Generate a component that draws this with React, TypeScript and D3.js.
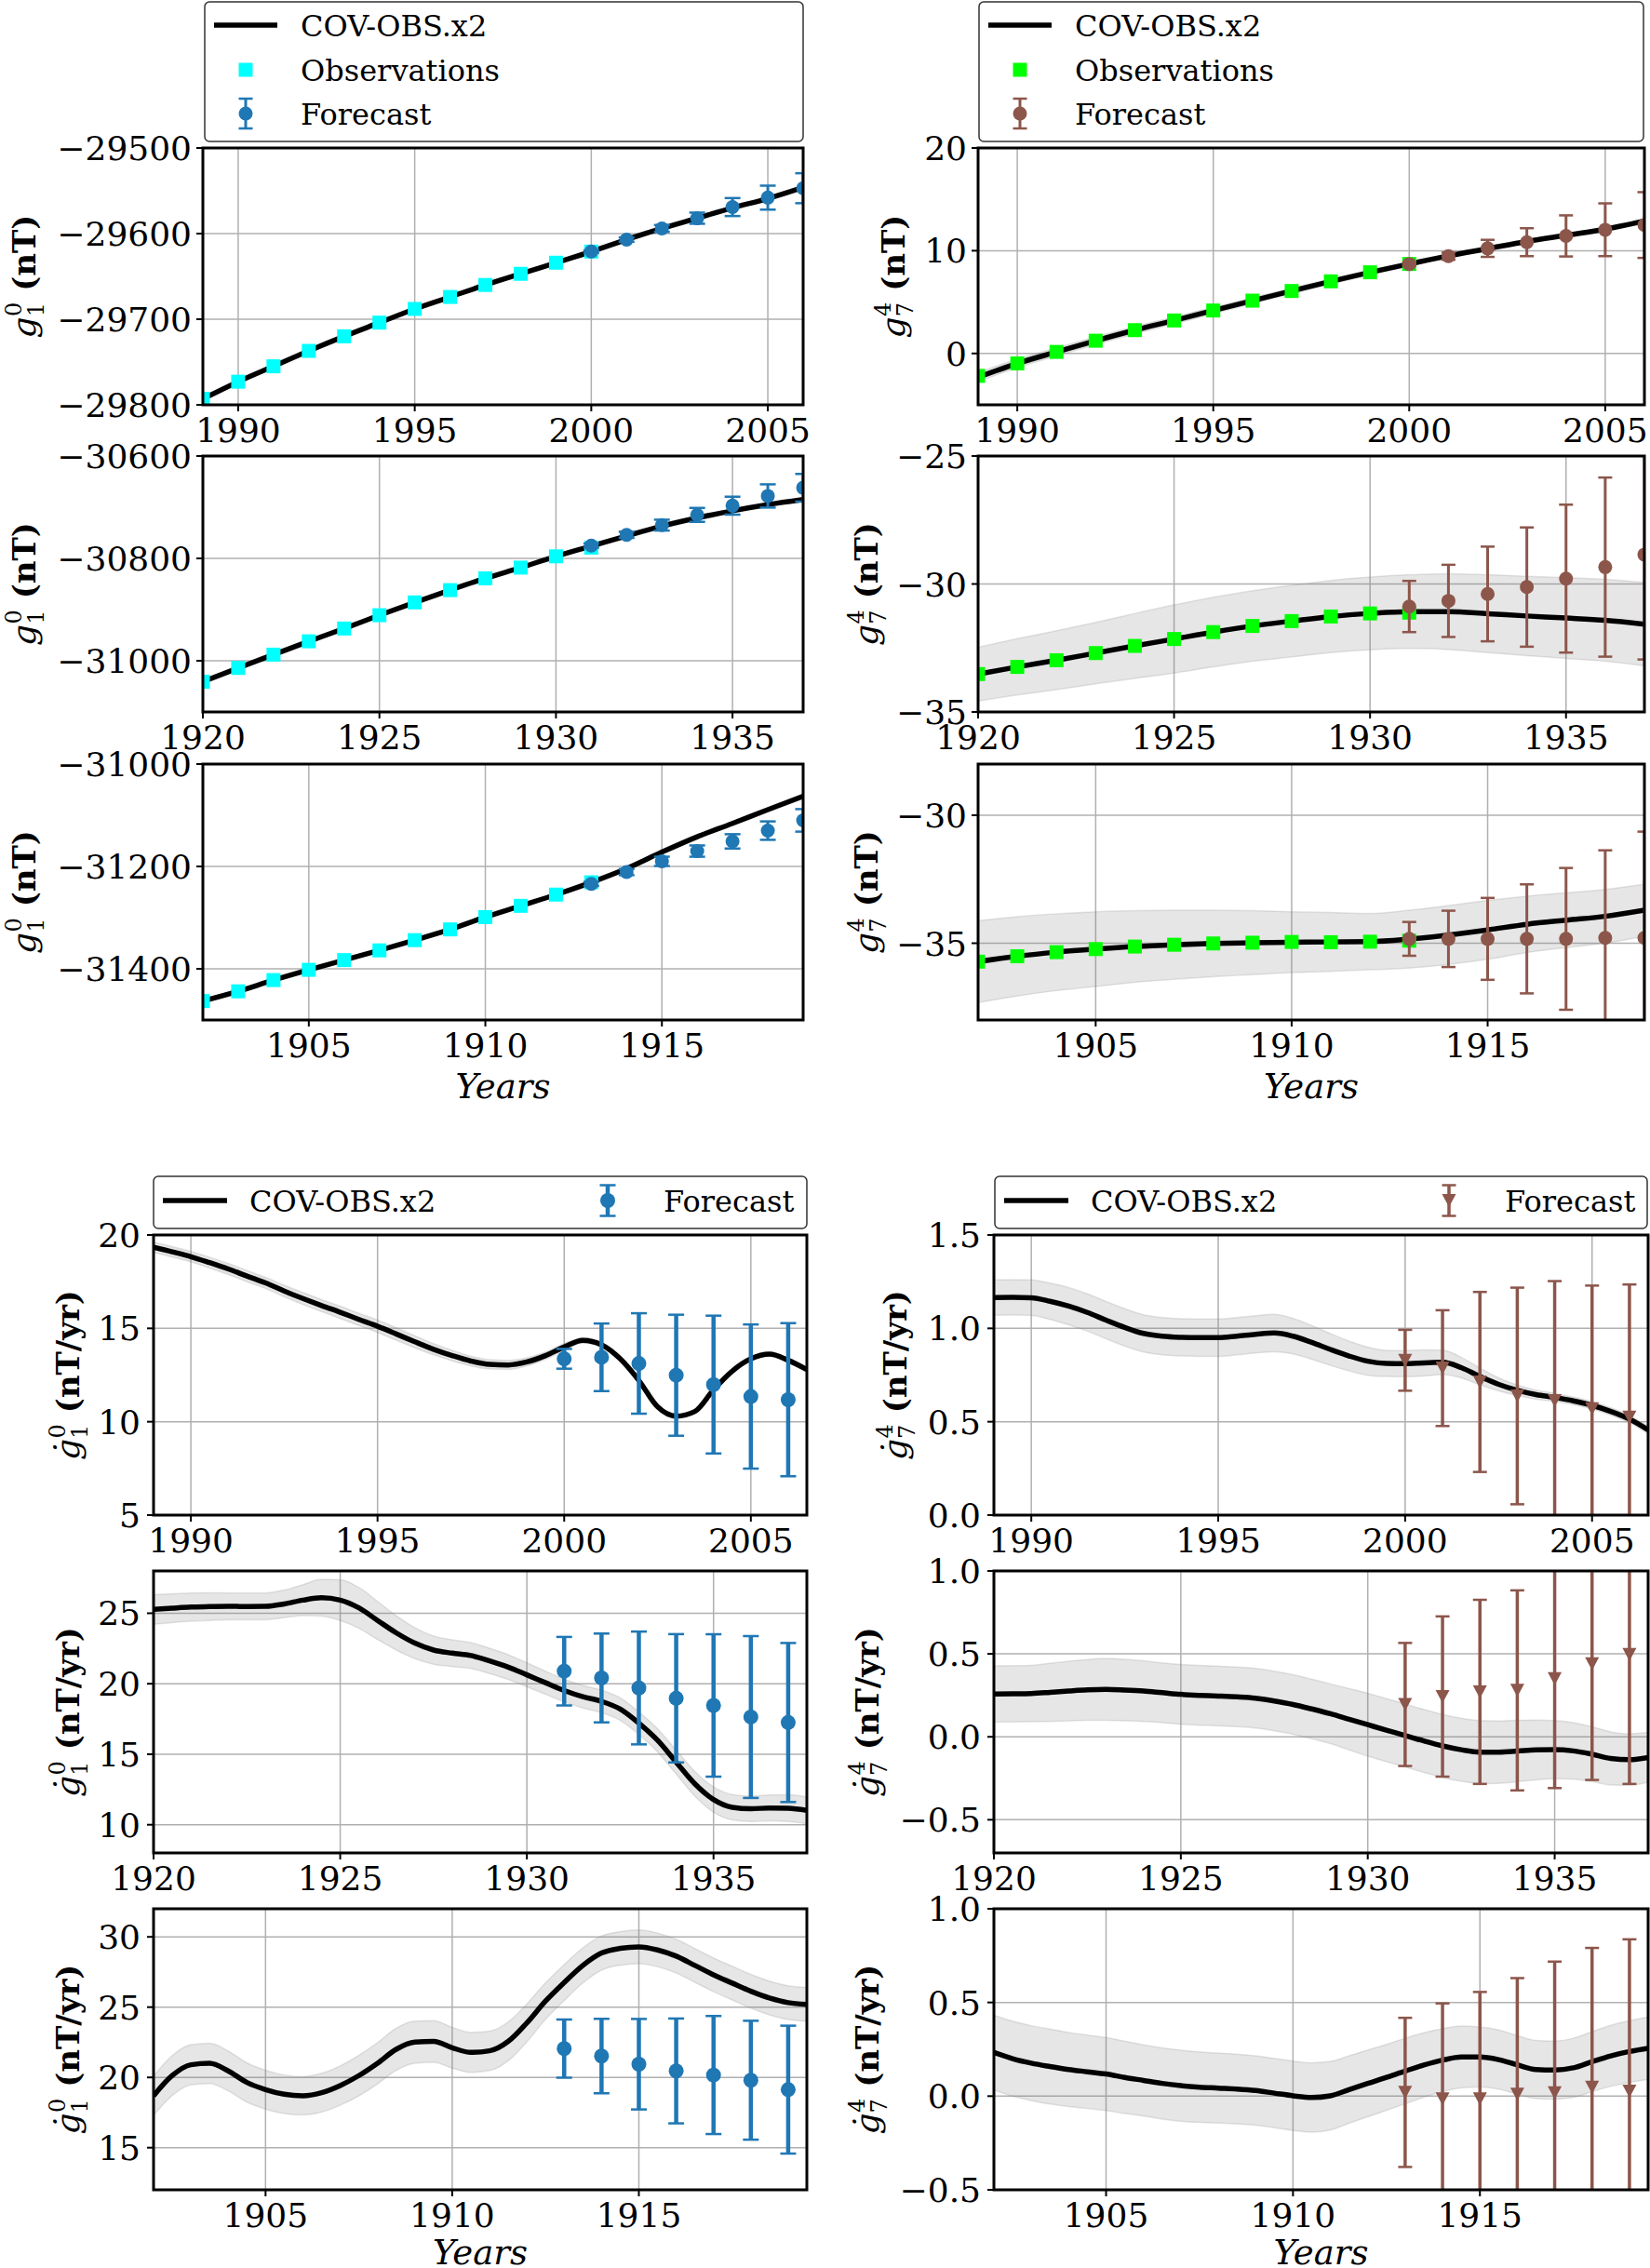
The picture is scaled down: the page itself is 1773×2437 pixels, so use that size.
import React from 'react';
import * as d3 from 'd3';

// ---------- data ----------
const yearsRecent = [1989, 1990, 1991, 1992, 1993, 1994, 1995, 1996, 1997, 1998, 1999, 2000, 2001, 2002, 2003, 2004, 2005, 2006];
const obsYearsRecent = [1989, 1990, 1991, 1992, 1993, 1994, 1995, 1996, 1997, 1998, 1999, 2000];
const fcYearsRecent = [2000, 2001, 2002, 2003, 2004, 2005, 2006];
const years1920 = [1920, 1921, 1922, 1923, 1924, 1925, 1926, 1927, 1928, 1929, 1930, 1931, 1932, 1933, 1934, 1935, 1936, 1937];
const obsYears1920 = [1920, 1921, 1922, 1923, 1924, 1925, 1926, 1927, 1928, 1929, 1930, 1931];
const fcYears1920 = [1931, 1932, 1933, 1934, 1935, 1936, 1937];
const years1902 = [1902, 1903, 1904, 1905, 1906, 1907, 1908, 1909, 1910, 1911, 1912, 1913, 1914, 1915, 1916, 1917, 1918, 1919];
const obsYears1902 = [1902, 1903, 1904, 1905, 1906, 1907, 1908, 1909, 1910, 1911, 1912, 1913];
const fcYears1902 = [1913, 1914, 1915, 1916, 1917, 1918, 1919];
// half-year sampling of the secular-variation curves
const halfYearsRecent = d3.range(1989, 2007, 0.5);
const halfYears1920 = d3.range(1920, 1938, 0.5);
const halfYears1902 = d3.range(1902, 1920, 0.5);

// g_1^0 (nT)
const g10LineRecent = [-29793, -29773, -29755, -29737, -29720, -29704, -29688, -29674, -29660, -29647, -29634, -29621, -29607, -29594, -29582, -29570, -29559, -29546];
const g10ObsRecent = [-29793, -29773, -29755, -29737, -29720, -29704, -29688, -29674, -29660, -29647, -29634, -29621];
const g10FcRecent = [-29621, -29607, -29594, -29582, -29569, -29558, -29547];
const g10ErrRecent = [1.5, 2.5, 4, 6.5, 10.5, 14, 17.5];

const g10Line1920 = [-31041, -31014, -30988, -30962, -30937, -30911, -30886, -30862, -30839, -30818, -30796, -30776, -30756, -30737, -30721, -30707, -30695, -30685];
const g10Obs1920 = [-31041, -31014, -30988, -30962, -30937, -30911, -30886, -30862, -30839, -30818, -30796, -30779];
const g10Fc1920 = [-30775, -30754, -30735, -30715, -30697, -30678, -30662];
const g10Err1920 = [4, 6, 10.6, 13.6, 17.5, 22.7, 27];

const g10Line1902 = [-31463, -31444, -31422, -31402, -31383, -31364, -31344, -31323, -31299, -31277, -31255, -31231, -31204, -31172, -31142, -31116, -31089, -31063];
const g10Obs1902 = [-31463, -31444, -31422, -31402, -31383, -31364, -31344, -31323, -31299, -31277, -31255, -31231];
const g10Fc1902 = [-31234, -31211, -31190, -31170, -31151, -31130, -31110];
const g10Err1902 = [4, 6, 9, 11, 14, 18, 22];

// g_7^4 (nT)
const g74LineRecent = [-2.3, -0.97, 0.15, 1.24, 2.27, 3.21, 4.18, 5.14, 6.08, 7.02, 7.9, 8.71, 9.5, 10.2, 10.9, 11.5, 12.1, 12.9];
const g74SigRecent = [0.45, 0.42, 0.4, 0.38, 0.36, 0.34, 0.32, 0.3, 0.28, 0.26, 0.24, 0.22, 0.2, 0.2, 0.2, 0.2, 0.2, 0.2];
const g74ObsRecent = [-2.18, -0.97, 0.15, 1.24, 2.27, 3.21, 4.18, 5.14, 6.08, 7.02, 7.9, 8.71];
const g74FcRecent = [8.71, 9.47, 10.23, 10.83, 11.44, 12.04, 12.5];
const g74ErrRecent = [0.15, 0.35, 0.83, 1.36, 2.0, 2.57, 3.2];

const g74Line1920 = [-33.52, -33.24, -32.98, -32.7, -32.42, -32.15, -31.88, -31.64, -31.45, -31.27, -31.15, -31.08, -31.08, -31.16, -31.25, -31.33, -31.42, -31.57];
const g74Sig1920 = [1.05, 1.1, 1.15, 1.2, 1.27, 1.33, 1.36, 1.38, 1.4, 1.41, 1.42, 1.44, 1.48, 1.52, 1.55, 1.58, 1.6, 1.63];
const g74Obs1920 = [-33.52, -33.24, -32.98, -32.7, -32.42, -32.15, -31.88, -31.64, -31.45, -31.27, -31.15, -31.12];
const g74Fc1920 = [-30.88, -30.66, -30.39, -30.12, -29.79, -29.34, -28.85];
const g74Err1920 = [1.0, 1.41, 1.85, 2.33, 2.89, 3.5, 4.1];

const g74Line1902 = [-35.72, -35.51, -35.35, -35.23, -35.13, -35.06, -35.01, -34.98, -34.96, -34.95, -34.94, -34.84, -34.68, -34.48, -34.26, -34.1, -33.95, -33.71];
const g74Sig1902 = [1.6, 1.55, 1.5, 1.46, 1.4, 1.35, 1.3, 1.25, 1.19, 1.15, 1.1, 1.13, 1.15, 1.15, 1.1, 1.07, 1.05, 1.02];
const g74Obs1902 = [-35.72, -35.51, -35.35, -35.23, -35.13, -35.06, -35.01, -34.98, -34.95, -34.96, -34.94, -34.9];
const g74Fc1902 = [-34.83, -34.83, -34.83, -34.83, -34.83, -34.79, -34.79];
const g74Err1902 = [0.66, 1.1, 1.6, 2.13, 2.77, 3.42, 4.15];

// secular variation of g_1^0 (nT/yr)
const sv10Recent = [19.34, 19.1, 18.84, 18.52, 18.18, 17.8, 17.43, 17.0, 16.6, 16.22, 15.86, 15.48, 15.11, 14.7, 14.28, 13.88, 13.54, 13.25, 13.07, 13.04, 13.2, 13.54, 14.0, 14.36, 14.12, 13.37, 12.21, 10.8, 10.3, 10.55, 11.71, 12.71, 13.37, 13.62, 13.29, 12.79];
const sv10SigRecent = [0.27, 0.28, 0.28, 0.29, 0.3, 0.3, 0.3, 0.31, 0.32, 0.32, 0.33, 0.33, 0.33, 0.33, 0.32, 0.3, 0.28, 0.26, 0.25, 0.24, 0.22, 0.2, 0.18, 0.15, 0.12, 0.1, 0.1, 0.1, 0.1, 0.1, 0.1, 0.1, 0.1, 0.1, 0.1, 0.1];
const sv10FcRecent = [13.37, 13.45, 13.12, 12.49, 11.99, 11.35, 11.18];
const sv10ErrRecent = [0.53, 1.81, 2.69, 3.24, 3.69, 3.86, 4.1];

const sv10_1920 = [25.27, 25.36, 25.44, 25.47, 25.49, 25.48, 25.49, 25.66, 25.93, 26.1, 25.93, 25.38, 24.49, 23.61, 22.88, 22.39, 22.17, 22.0, 21.62, 21.18, 20.63, 20.07, 19.52, 19.08, 18.75, 18.2, 17.2, 15.99, 14.44, 12.9, 11.79, 11.24, 11.13, 11.19, 11.17, 11.02];
const sv10Sig1920 = [1.05, 1.02, 1.0, 0.98, 0.95, 0.95, 0.95, 0.98, 1.1, 1.3, 1.45, 1.45, 1.35, 1.22, 1.1, 1.0, 0.95, 0.92, 0.9, 0.88, 0.85, 0.82, 0.8, 0.8, 0.8, 0.8, 0.8, 0.82, 0.85, 0.88, 0.9, 0.9, 0.9, 0.92, 0.95, 0.95];
const sv10Fc1920 = [20.89, 20.41, 19.7, 18.97, 18.46, 17.64, 17.25];
const sv10Err1920 = [2.43, 3.15, 4.0, 4.55, 5.05, 5.74, 5.64];

const sv10_1902 = [18.69, 20.13, 20.9, 21.0, 20.46, 19.64, 19.13, 18.8, 18.69, 18.91, 19.42, 20.13, 21.01, 22.0, 22.51, 22.56, 22.11, 21.78, 21.89, 22.56, 23.88, 25.43, 26.75, 27.97, 28.85, 29.18, 29.29, 29.07, 28.63, 27.97, 27.3, 26.71, 26.13, 25.65, 25.32, 25.2];
const sv10Sig1902 = [1.4, 1.42, 1.43, 1.43, 1.42, 1.4, 1.38, 1.37, 1.36, 1.38, 1.4, 1.44, 1.47, 1.5, 1.5, 1.48, 1.45, 1.42, 1.4, 1.38, 1.35, 1.3, 1.28, 1.25, 1.22, 1.2, 1.2, 1.2, 1.2, 1.2, 1.2, 1.2, 1.2, 1.2, 1.2, 1.2];
const sv10Fc1902 = [22.05, 21.52, 20.94, 20.46, 20.17, 19.8, 19.13];
const sv10Err1902 = [2.07, 2.65, 3.22, 3.73, 4.2, 4.23, 4.55];

// secular variation of g_7^4 (nT/yr)
const sv74Recent = [1.165, 1.166, 1.164, 1.145, 1.119, 1.085, 1.044, 1.005, 0.973, 0.958, 0.952, 0.95, 0.95, 0.958, 0.968, 0.975, 0.958, 0.925, 0.887, 0.852, 0.824, 0.812, 0.811, 0.815, 0.818, 0.79, 0.742, 0.7, 0.668, 0.645, 0.63, 0.612, 0.588, 0.555, 0.514, 0.456];
const sv74SigRecent = [0.095, 0.095, 0.095, 0.097, 0.1, 0.1, 0.1, 0.1, 0.1, 0.1, 0.1, 0.1, 0.1, 0.1, 0.1, 0.1, 0.095, 0.09, 0.085, 0.08, 0.075, 0.07, 0.07, 0.07, 0.065, 0.055, 0.045, 0.035, 0.028, 0.024, 0.022, 0.02, 0.02, 0.02, 0.02, 0.02];
const sv74FcRecent = [0.829, 0.787, 0.713, 0.638, 0.613, 0.569, 0.525];
const sv74ErrRecent = [0.163, 0.31, 0.482, 0.58, 0.64, 0.66, 0.71];

const sv74_1920 = [0.258, 0.259, 0.261, 0.268, 0.276, 0.283, 0.286, 0.282, 0.276, 0.266, 0.256, 0.25, 0.246, 0.241, 0.233, 0.216, 0.195, 0.168, 0.139, 0.106, 0.073, 0.04, 0.008, -0.025, -0.055, -0.078, -0.092, -0.092, -0.086, -0.079, -0.077, -0.085, -0.105, -0.13, -0.137, -0.124];
const sv74Sig1920 = [0.17, 0.17, 0.17, 0.175, 0.18, 0.183, 0.186, 0.185, 0.183, 0.18, 0.18, 0.18, 0.18, 0.18, 0.18, 0.18, 0.18, 0.18, 0.18, 0.185, 0.19, 0.19, 0.19, 0.19, 0.19, 0.19, 0.19, 0.188, 0.185, 0.18, 0.175, 0.17, 0.165, 0.16, 0.155, 0.15];
const sv74Fc1920 = [0.195, 0.243, 0.271, 0.28, 0.351, 0.44, 0.496];
const sv74Err1920 = [0.371, 0.483, 0.555, 0.603, 0.66, 0.7, 0.78];

const sv74_1902 = [0.233, 0.2, 0.176, 0.158, 0.142, 0.13, 0.118, 0.1, 0.084, 0.068, 0.056, 0.048, 0.043, 0.038, 0.03, 0.016, 0.002, -0.007, 0.002, 0.035, 0.068, 0.1, 0.134, 0.166, 0.192, 0.209, 0.209, 0.195, 0.167, 0.142, 0.139, 0.151, 0.184, 0.215, 0.238, 0.255];
const sv74Sig1902 = [0.2, 0.2, 0.2, 0.2, 0.198, 0.196, 0.195, 0.193, 0.19, 0.19, 0.19, 0.188, 0.187, 0.186, 0.185, 0.185, 0.185, 0.185, 0.183, 0.18, 0.178, 0.176, 0.175, 0.172, 0.168, 0.165, 0.16, 0.158, 0.156, 0.155, 0.155, 0.158, 0.16, 0.163, 0.165, 0.167];
const sv74Fc1902 = [0.02, -0.015, -0.015, 0.01, 0.018, 0.048, 0.027];
const sv74Err1902 = [0.398, 0.51, 0.571, 0.62, 0.7, 0.743, 0.81];

// ---------- styling ----------
const SERIF = "'DejaVu Serif', 'Liberation Serif', serif";
const BLUE = '#1f77b4';
const BROWN = '#8c564b';
const CYAN = '#00ffff';
const LIME = '#00ff00';
const GRID = '#b0b0b0';
const BAND = 'rgba(128,128,128,0.2)';
const LINE_W = 5.5;

type Panel = {
  id: string;
  x0: number; x1: number; y0: number; y1: number;
  xDomain: [number, number]; yDomain: [number, number];
  xTicks: number[]; yTicks: number[]; decimals: number;
  lineX: number[]; lineY: number[]; sigma: number[] | null;
  obsX: number[] | null; obsY: number[] | null; obsColor: string;
  fcX: number[]; fcY: number[]; fcErr: number[]; fcColor: string;
  marker: 'circle' | 'tri'; bottom: boolean;
  dot: boolean; sub: string; sup: string; unit: string; labelX: number;
  xlabelY: number | null;
};

const TL = { x0: 218, x1: 863 };
const TR = { x0: 1051, x1: 1767 };
const BL = { x0: 165, x1: 867 };
const BR = { x0: 1068, x1: 1771 };
const topRows = [[159, 435], [490, 765], [821, 1096]];
const botRows = [[1327, 1628], [1688, 1991], [2051, 2353]];

const panels: Panel[] = [
  { id: 'a', ...TL, y0: topRows[0][0], y1: topRows[0][1], xDomain: [1989, 2006], yDomain: [-29800, -29500], xTicks: [1990, 1995, 2000, 2005], yTicks: [-29800, -29700, -29600, -29500], decimals: 0,
    lineX: yearsRecent, lineY: g10LineRecent, sigma: null, obsX: obsYearsRecent, obsY: g10ObsRecent, obsColor: CYAN,
    fcX: fcYearsRecent, fcY: g10FcRecent, fcErr: g10ErrRecent, fcColor: BLUE, marker: 'circle', bottom: false,
    dot: false, sub: '1', sup: '0', unit: '(nT)', labelX: 38, xlabelY: null },
  { id: 'b', ...TR, y0: topRows[0][0], y1: topRows[0][1], xDomain: [1989, 2006], yDomain: [-5, 20], xTicks: [1990, 1995, 2000, 2005], yTicks: [0, 10, 20], decimals: 0,
    lineX: yearsRecent, lineY: g74LineRecent, sigma: g74SigRecent, obsX: obsYearsRecent, obsY: g74ObsRecent, obsColor: LIME,
    fcX: fcYearsRecent, fcY: g74FcRecent, fcErr: g74ErrRecent, fcColor: BROWN, marker: 'circle', bottom: false,
    dot: false, sub: '7', sup: '4', unit: '(nT)', labelX: 972, xlabelY: null },
  { id: 'c', ...TL, y0: topRows[1][0], y1: topRows[1][1], xDomain: [1920, 1937], yDomain: [-31100, -30600], xTicks: [1920, 1925, 1930, 1935], yTicks: [-31000, -30800, -30600], decimals: 0,
    lineX: years1920, lineY: g10Line1920, sigma: null, obsX: obsYears1920, obsY: g10Obs1920, obsColor: CYAN,
    fcX: fcYears1920, fcY: g10Fc1920, fcErr: g10Err1920, fcColor: BLUE, marker: 'circle', bottom: false,
    dot: false, sub: '1', sup: '0', unit: '(nT)', labelX: 38, xlabelY: null },
  { id: 'd', ...TR, y0: topRows[1][0], y1: topRows[1][1], xDomain: [1920, 1937], yDomain: [-35, -25], xTicks: [1920, 1925, 1930, 1935], yTicks: [-35, -30, -25], decimals: 0,
    lineX: years1920, lineY: g74Line1920, sigma: g74Sig1920, obsX: obsYears1920, obsY: g74Obs1920, obsColor: LIME,
    fcX: fcYears1920, fcY: g74Fc1920, fcErr: g74Err1920, fcColor: BROWN, marker: 'circle', bottom: false,
    dot: false, sub: '7', sup: '4', unit: '(nT)', labelX: 943, xlabelY: null },
  { id: 'e', ...TL, y0: topRows[2][0], y1: topRows[2][1], xDomain: [1902, 1919], yDomain: [-31500, -31000], xTicks: [1905, 1910, 1915], yTicks: [-31400, -31200, -31000], decimals: 0,
    lineX: years1902, lineY: g10Line1902, sigma: null, obsX: obsYears1902, obsY: g10Obs1902, obsColor: CYAN,
    fcX: fcYears1902, fcY: g10Fc1902, fcErr: g10Err1902, fcColor: BLUE, marker: 'circle', bottom: false,
    dot: false, sub: '1', sup: '0', unit: '(nT)', labelX: 38, xlabelY: 1180 },
  { id: 'f', ...TR, y0: topRows[2][0], y1: topRows[2][1], xDomain: [1902, 1919], yDomain: [-38, -28], xTicks: [1905, 1910, 1915], yTicks: [-35, -30], decimals: 0,
    lineX: years1902, lineY: g74Line1902, sigma: g74Sig1902, obsX: obsYears1902, obsY: g74Obs1902, obsColor: LIME,
    fcX: fcYears1902, fcY: g74Fc1902, fcErr: g74Err1902, fcColor: BROWN, marker: 'circle', bottom: false,
    dot: false, sub: '7', sup: '4', unit: '(nT)', labelX: 943, xlabelY: 1180 },
  { id: 'g', ...BL, y0: botRows[0][0], y1: botRows[0][1], xDomain: [1989, 2006.5], yDomain: [5, 20], xTicks: [1990, 1995, 2000, 2005], yTicks: [5, 10, 15, 20], decimals: 0,
    lineX: halfYearsRecent, lineY: sv10Recent, sigma: sv10SigRecent, obsX: null, obsY: null, obsColor: CYAN,
    fcX: fcYearsRecent, fcY: sv10FcRecent, fcErr: sv10ErrRecent, fcColor: BLUE, marker: 'circle', bottom: true,
    dot: true, sub: '1', sup: '0', unit: '(nT/yr)', labelX: 85, xlabelY: null },
  { id: 'h', ...BR, y0: botRows[0][0], y1: botRows[0][1], xDomain: [1989, 2006.5], yDomain: [0, 1.5], xTicks: [1990, 1995, 2000, 2005], yTicks: [0, 0.5, 1, 1.5], decimals: 1,
    lineX: halfYearsRecent, lineY: sv74Recent, sigma: sv74SigRecent, obsX: null, obsY: null, obsColor: LIME,
    fcX: fcYearsRecent, fcY: sv74FcRecent, fcErr: sv74ErrRecent, fcColor: BROWN, marker: 'tri', bottom: true,
    dot: true, sub: '7', sup: '4', unit: '(nT/yr)', labelX: 974, xlabelY: null },
  { id: 'i', ...BL, y0: botRows[1][0], y1: botRows[1][1], xDomain: [1920, 1937.5], yDomain: [8, 28], xTicks: [1920, 1925, 1930, 1935], yTicks: [10, 15, 20, 25], decimals: 0,
    lineX: halfYears1920, lineY: sv10_1920, sigma: sv10Sig1920, obsX: null, obsY: null, obsColor: CYAN,
    fcX: fcYears1920, fcY: sv10Fc1920, fcErr: sv10Err1920, fcColor: BLUE, marker: 'circle', bottom: true,
    dot: true, sub: '1', sup: '0', unit: '(nT/yr)', labelX: 85, xlabelY: null },
  { id: 'j', ...BR, y0: botRows[1][0], y1: botRows[1][1], xDomain: [1920, 1937.5], yDomain: [-0.7, 1.0], xTicks: [1920, 1925, 1930, 1935], yTicks: [-0.5, 0, 0.5, 1], decimals: 1,
    lineX: halfYears1920, lineY: sv74_1920, sigma: sv74Sig1920, obsX: null, obsY: null, obsColor: LIME,
    fcX: fcYears1920, fcY: sv74Fc1920, fcErr: sv74Err1920, fcColor: BROWN, marker: 'tri', bottom: true,
    dot: true, sub: '7', sup: '4', unit: '(nT/yr)', labelX: 944, xlabelY: null },
  { id: 'k', ...BL, y0: botRows[2][0], y1: botRows[2][1], xDomain: [1902, 1919.5], yDomain: [12, 32], xTicks: [1905, 1910, 1915], yTicks: [15, 20, 25, 30], decimals: 0,
    lineX: halfYears1902, lineY: sv10_1902, sigma: sv10Sig1902, obsX: null, obsY: null, obsColor: CYAN,
    fcX: fcYears1902, fcY: sv10Fc1902, fcErr: sv10Err1902, fcColor: BLUE, marker: 'circle', bottom: true,
    dot: true, sub: '1', sup: '0', unit: '(nT/yr)', labelX: 85, xlabelY: 2433 },
  { id: 'l', ...BR, y0: botRows[2][0], y1: botRows[2][1], xDomain: [1902, 1919.5], yDomain: [-0.5, 1.0], xTicks: [1905, 1910, 1915], yTicks: [-0.5, 0, 0.5, 1], decimals: 1,
    lineX: halfYears1902, lineY: sv74_1902, sigma: sv74Sig1902, obsX: null, obsY: null, obsColor: LIME,
    fcX: fcYears1902, fcY: sv74Fc1902, fcErr: sv74Err1902, fcColor: BROWN, marker: 'tri', bottom: true,
    dot: true, sub: '7', sup: '4', unit: '(nT/yr)', labelX: 944, xlabelY: 2433 },
];

const triPath = (cx: number, cy: number, w = 15, h = 14) =>
  `M${cx - w / 2},${cy - h / 2}L${cx + w / 2},${cy - h / 2}L${cx},${cy + h / 2}Z`;

function Marker({ kind, cx, cy, color, r }: { kind: string; cx: number; cy: number; color: string; r: number }) {
  if (kind === 'tri') return <path d={triPath(cx, cy)} fill={color} />;
  if (kind === 'square') return <rect x={cx - 7.5} y={cy - 7.5} width={15} height={15} fill={color} />;
  return <circle cx={cx} cy={cy} r={r} fill={color} />;
}

function ErrorBar({ cx, yLo, yHi, color, lw, cap }: { cx: number; yLo: number; yHi: number; color: string; lw: number; cap: number }) {
  return (
    <g stroke={color} strokeWidth={lw}>
      <line x1={cx} x2={cx} y1={yLo} y2={yHi} />
      <line x1={cx - cap / 2} x2={cx + cap / 2} y1={yLo} y2={yLo} strokeWidth={2.5} />
      <line x1={cx - cap / 2} x2={cx + cap / 2} y1={yHi} y2={yHi} strokeWidth={2.5} />
    </g>
  );
}

function YLabel({ x, y, dot, sub, sup, unit }: { x: number; y: number; dot: boolean; sub: string; sup: string; unit: string }) {
  return (
    <text transform={`translate(${x},${y}) rotate(-90)`} textAnchor="middle" fontFamily={SERIF} fontSize={36} fill="#000">
      <tspan fontStyle="italic">{dot ? 'ġ' : 'g'}</tspan>
      <tspan fontSize={24} dy={9}>{sub}</tspan>
      <tspan fontSize={24} dx={-15} dy={-24}>{sup}</tspan>
      <tspan fontWeight="bold" fontSize={34} dx={12} dy={15}>{unit}</tspan>
    </text>
  );
}

function PanelView({ p }: { p: Panel }) {
  const x = d3.scaleLinear().domain(p.xDomain).range([p.x0, p.x1]);
  const y = d3.scaleLinear().domain(p.yDomain).range([p.y1, p.y0]);
  const pts = p.lineX.map((t, i) => ({ t, v: p.lineY[i], s: p.sigma ? p.sigma[i] : 0 }));
  const line = d3.line<{ t: number; v: number }>().x(d => x(d.t)).y(d => y(d.v)).curve(d3.curveMonotoneX);
  const band = d3.area<{ t: number; v: number; s: number }>()
    .x(d => x(d.t)).y0(d => y(d.v - d.s)).y1(d => y(d.v + d.s)).curve(d3.curveMonotoneX);
  const fmt = d3.format(p.decimals ? '.1f' : 'd');
  const clip = `clip-${p.id}`;
  const tickGap = p.bottom ? 14 : 12;
  const barW = p.bottom ? (p.fcColor === BLUE ? 4.5 : 3.5) : 3;
  const capW = p.fcColor === BLUE ? 17 : 15;
  const rad = p.bottom ? 8 : 7.5;
  return (
    <g>
      <defs>
        <clipPath id={clip}><rect x={p.x0} y={p.y0} width={p.x1 - p.x0} height={p.y1 - p.y0} /></clipPath>
      </defs>
      {/* grid */}
      <g stroke={GRID} strokeWidth={1.5}>
        {p.xTicks.map(t => <line key={'gx' + t} x1={x(t)} x2={x(t)} y1={p.y0} y2={p.y1} />)}
        {p.yTicks.map(t => <line key={'gy' + t} x1={p.x0} x2={p.x1} y1={y(t)} y2={y(t)} />)}
      </g>
      <g clipPath={`url(#${clip})`}>
        {p.sigma && <path d={band(pts) || ''} fill={BAND} stroke={BAND} strokeWidth={1.5} />}
        <path d={line(pts) || ''} fill="none" stroke="#000" strokeWidth={LINE_W} />
        {p.obsX && p.obsY && p.obsX.map((t, i) => (
          <Marker key={'o' + t} kind="square" cx={x(t)} cy={y(p.obsY![i])} color={p.obsColor} r={7} />
        ))}
        {p.fcX.map((t, i) => (
          <g key={'f' + t}>
            <ErrorBar cx={x(t)} yLo={y(p.fcY[i] - p.fcErr[i])} yHi={y(p.fcY[i] + p.fcErr[i])} color={p.fcColor} lw={barW} cap={capW} />
            <Marker kind={p.marker} cx={x(t)} cy={y(p.fcY[i])} color={p.fcColor} r={rad} />
          </g>
        ))}
      </g>
      {/* spines */}
      <rect x={p.x0} y={p.y0} width={p.x1 - p.x0} height={p.y1 - p.y0} fill="none" stroke="#000" strokeWidth={3} />
      {/* ticks */}
      <g stroke="#000" strokeWidth={2}>
        {p.xTicks.map(t => <line key={'tx' + t} x1={x(t)} x2={x(t)} y1={p.y1} y2={p.y1 + 7} />)}
        {p.yTicks.map(t => <line key={'ty' + t} x1={p.x0 - 7} x2={p.x0} y1={y(t)} y2={y(t)} />)}
      </g>
      <g fontFamily={SERIF} fontSize={36} fill="#000">
        {p.xTicks.map(t => (
          <text key={'lx' + t} x={x(t)} y={p.y1 + 40} textAnchor="middle">{t}</text>
        ))}
        {p.yTicks.map(t => (
          <text key={'ly' + t} x={p.x0 - tickGap} y={y(t) + 13} textAnchor="end">{fmt(t)}</text>
        ))}
      </g>
      <YLabel x={p.labelX} y={(p.y0 + p.y1) / 2} dot={p.dot} sub={p.sub} sup={p.sup} unit={p.unit} />
      {p.xlabelY !== null && (
        <text x={(p.x0 + p.x1) / 2} y={p.xlabelY} textAnchor="middle" fontFamily={SERIF} fontStyle="italic" fontSize={37}>Years</text>
      )}
    </g>
  );
}

function LegendTop({ x0, x1, obsColor, fcColor }: { x0: number; x1: number; obsColor: string; fcColor: string }) {
  const rows = [27, 75, 122];
  const mx = x0 + 44;
  return (
    <g fontFamily={SERIF} fontSize={32}>
      <rect x={x0} y={2} width={x1 - x0} height={150} rx={5} fill="#fff" stroke="#333" strokeWidth={1.5} />
      <line x1={x0 + 10} x2={x0 + 78} y1={rows[0]} y2={rows[0]} stroke="#000" strokeWidth={LINE_W} />
      <Marker kind="square" cx={mx} cy={rows[1]} color={obsColor} r={7} />
      <ErrorBar cx={mx} yLo={rows[2] + 16} yHi={rows[2] - 16} color={fcColor} lw={3} cap={15} />
      <Marker kind="circle" cx={mx} cy={rows[2]} color={fcColor} r={7.5} />
      <text x={x0 + 103} y={rows[0] + 12}>COV-OBS.x2</text>
      <text x={x0 + 103} y={rows[1] + 12}>Observations</text>
      <text x={x0 + 103} y={rows[2] + 12}>Forecast</text>
    </g>
  );
}

function LegendBottom({ x0, x1, fcColor, marker }: { x0: number; x1: number; fcColor: string; marker: string }) {
  const cy = 1290;
  return (
    <g fontFamily={SERIF} fontSize={32}>
      <rect x={x0} y={1264} width={x1 - x0} height={56} rx={5} fill="#fff" stroke="#333" strokeWidth={1.5} />
      <line x1={x0 + 10} x2={x0 + 79} y1={cy} y2={cy} stroke="#000" strokeWidth={LINE_W} />
      <text x={x0 + 103} y={cy + 12}>COV-OBS.x2</text>
      <ErrorBar cx={x0 + 488} yLo={cy + 16.5} yHi={cy - 16.5} color={fcColor} lw={marker === 'tri' ? 3.5 : 4.5} cap={marker === 'tri' ? 15 : 17} />
      <Marker kind={marker} cx={x0 + 488} cy={cy} color={fcColor} r={8} />
      <text x={x0 + 548} y={cy + 12}>Forecast</text>
    </g>
  );
}

export default function App() {
  return (
    <div style={{ position: 'absolute', left: 0, top: 0 }}>
      <svg width={1773} height={2437} viewBox="0 0 1773 2437" style={{ display: 'block', background: '#fff' }}>
        <rect width={1773} height={2437} fill="#fff" />
        <LegendTop x0={220} x1={863} obsColor={CYAN} fcColor={BLUE} />
        <LegendTop x0={1052} x1={1766} obsColor={LIME} fcColor={BROWN} />
        <LegendBottom x0={165} x1={867} fcColor={BLUE} marker="circle" />
        <LegendBottom x0={1069} x1={1770} fcColor={BROWN} marker="tri" />
        {panels.map(p => <PanelView key={p.id} p={p} />)}
      </svg>
    </div>
  );
}
